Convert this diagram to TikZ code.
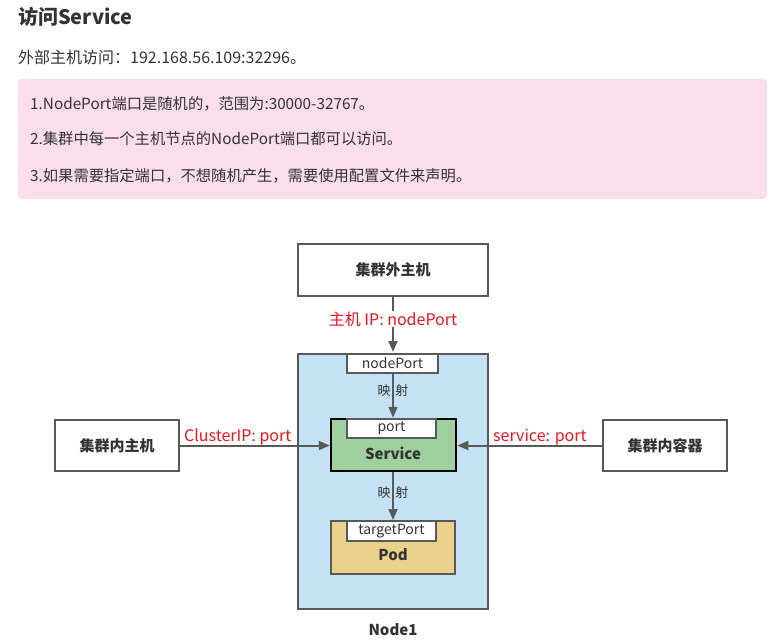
\documentclass[tikz,border=0pt]{standalone}
\usepackage{fontspec}
\setmainfont{Noto Sans CJK SC}
\usetikzlibrary{arrows.meta}
\definecolor{txt}{HTML}{333333}
\definecolor{edge}{HTML}{595959}
\definecolor{pinkbg}{HTML}{FADEEC}
\definecolor{nodeblue}{HTML}{C4E2F3}
\definecolor{svcgreen}{HTML}{9FD0A0}
\definecolor{podyellow}{HTML}{EBD28C}
\definecolor{lblred}{HTML}{F0141E}
\tikzset{
  box/.style={draw=edge, line width=2pt, fill=white, inner sep=0pt, text=txt,
    font=\fontsize{15}{18}\selectfont\bfseries},
  portbox/.style={draw=edge, line width=1.6pt, fill=white, inner sep=0pt, text=txt,
    font=\fontsize{14}{16}\selectfont},
  arr/.style={draw=edge, line width=2pt, -{Triangle[width=9pt,length=11pt]}},
  redlbl/.style={text=lblred, inner sep=1pt, font=\fontsize{16}{19}\selectfont},
  maplbl/.style={text=txt, inner sep=0pt, font=\fontsize{13}{15}\selectfont},
  bodytxt/.style={text=txt, inner sep=0pt, anchor=west, font=\fontsize{15.3}{18}\selectfont},
}
\begin{document}
\begin{tikzpicture}[x=1pt,y=-1pt]
\useasboundingbox (0,0) rectangle (778,639);
% header texts
\node[text=txt, inner sep=0pt, anchor=west, font=\fontsize{20}{24}\selectfont\bfseries] (title) at (18,17) {访问Service};
\node[bodytxt, font=\fontsize{16}{19}\selectfont] (intro) at (18,57) {外部主机访问：192.168.56.109:32296。};
\fill[pinkbg, rounded corners=4pt] (18,79) rectangle (767,199);
\node[bodytxt] (l1) at (30,104) {1.NodePort端口是随机的，范围为:30000-32767。};
\node[bodytxt] (l2) at (30,139) {2.集群中每一个主机节点的NodePort端口都可以访问。};
\node[bodytxt] (l3) at (30,176) {3.如果需要指定端口，不想随机产生，需要使用配置文件来声明。};
% diagram
\node[box, minimum width=190pt, minimum height=52pt] (ext) at (393,270) {集群外主机};
\node[box, fill=nodeblue, minimum width=190pt, minimum height=255pt] (node1) at (393,481.5) {};
\node[text=txt, inner sep=0pt, font=\fontsize{15}{18}\selectfont\bfseries] (node1lbl) at (393,630) {Node1};
\node[portbox, minimum width=91pt, minimum height=19pt] (np) at (392.5,363.5) {nodePort};
\node[box, draw=black, line width=2.5pt, fill=svcgreen, minimum width=125pt, minimum height=52pt] (svc) at (393.5,445) {};
\node[portbox, minimum width=89pt, minimum height=19pt] (port) at (391.5,428.5) {port};
\node[text=txt, inner sep=0pt, font=\fontsize{15}{18}\selectfont\bfseries] (svclbl) at (393,453) {Service};
\node[box, fill=podyellow, minimum width=124pt, minimum height=53pt] (pod) at (393,547.5) {};
\node[portbox, minimum width=89pt, minimum height=20pt] (tp) at (391.5,531) {targetPort};
\node[text=txt, inner sep=0pt, font=\fontsize{15}{18}\selectfont\bfseries] (podlbl) at (393,555) {Pod};
\node[box, minimum width=124pt, minimum height=51pt] (inhost) at (117,445.5) {集群内主机};
\node[box, minimum width=124pt, minimum height=51pt] (ctr) at (665,445.5) {集群内容器};
% connectors
\coordinate (extb) at (393,296);
\coordinate (n1t) at (393,352);
\draw[arr] (extb) -- (n1t);
\node[redlbl, fill=white] (iplbl) at (393,319) {主机 IP: nodePort};
\draw[arr] (np.south -| 393,0) -- (svc.north -| 393,0);
\node[maplbl] (map1) at (393,391) {映\hspace{5pt}射};
\draw[arr] (svc.south -| 393,0) -- (pod.north -| 393,0);
\node[maplbl] (map2) at (393,493) {映\hspace{5pt}射};
\draw[arr] (inhost.east) -- (svc.west |- inhost.east);
\node[redlbl, anchor=west] (cip) at (183,437) {ClusterIP: port};
\draw[arr] (ctr.west) -- (svc.east |- ctr.west);
\node[redlbl, anchor=west] (sp) at (492,437) {service: port};
\end{tikzpicture}
\end{document}
